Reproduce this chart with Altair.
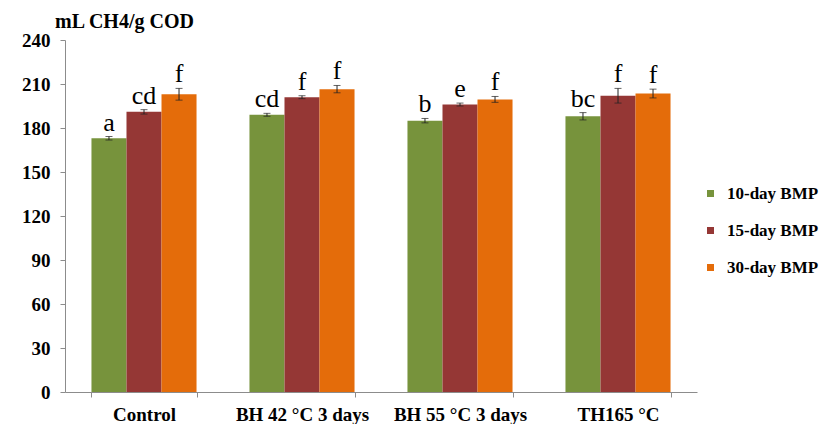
import altair as alt
import pandas as pd

groups = ["Control", "BH 42 °C 3 days", "BH 55 °C 3 days", "TH165 °C"]
series = ["10-day BMP", "15-day BMP", "30-day BMP"]
colors = ["#77933C", "#953735", "#E46C0A"]

v10 = [173, 189, 185, 188]
v15 = [191, 201, 196, 202]
v30 = [203, 206.5, 199.5, 203.5]

e10 = [1.2, 1.0, 1.5, 2.5]
e15 = [1.5, 1.0, 1.0, 5.0]
e30 = [4.0, 2.5, 2.0, 3.0]

l10 = ["a", "cd", "b", "bc"]
l15 = ["cd", "f", "e", "f"]
l30 = ["f", "f", "f", "f"]

y_ticks = [0, 30, 60, 90, 120, 150, 180, 210, 240]
y_title = "mL CH4/g COD"

rows = []
for s, vals, errs, labs in zip(series, [v10, v15, v30], [e10, e15, e30], [l10, l15, l30]):
    for g, v, e, lab in zip(groups, vals, errs, labs):
        rows.append({"group": g, "series": s, "value": v, "lo": v - e, "hi": v + e, "letter": lab})
df = pd.DataFrame(rows)

FONT = "Liberation Serif"
TFONT = "Liberation Serif, Times New Roman, serif"

x_enc = alt.X("group:N", sort=groups, title=None,
              scale=alt.Scale(paddingInner=0.335, paddingOuter=0.1675),
              axis=alt.Axis(labelAngle=0, labelFont=FONT, labelFontWeight="bold",
                            labelFontSize=19, labelColor="#000000", labelPadding=8,
                            tickBand="extent", tickSize=5, tickColor="#8c8c8c",
                            domainColor="#8c8c8c", labelLimit=300))
xo = alt.XOffset("series:N", sort=series, scale=alt.Scale(paddingInner=0, paddingOuter=0))

y_scale = alt.Scale(domain=[0, 240], nice=False)

bars = alt.Chart(df).mark_bar().encode(
    x=x_enc,
    xOffset=xo,
    y=alt.Y("value:Q", scale=y_scale, title=None,
            axis=alt.Axis(values=y_ticks, grid=False, labelFont=FONT, labelFontWeight="bold",
                          labelFontSize=19, labelColor="#000000", labelPadding=10,
                          tickSize=5, tickColor="#8c8c8c", domainColor="#8c8c8c")),
    color=alt.Color("series:N", sort=series,
                    scale=alt.Scale(domain=series, range=colors),
                    legend=alt.Legend(title=None, orient="none", legendX=637, legendY=145,
                                      symbolType="square", symbolSize=49, symbolStrokeWidth=0,
                                      labelFont=FONT, labelFontWeight="bold", labelFontSize=17,
                                      labelColor="#000000", rowPadding=19, padding=0,
                                      labelOffset=8)),
)

rules = alt.Chart(df).mark_rule(color="#222222", strokeWidth=1).encode(
    x=alt.X("group:N", sort=groups),
    xOffset=xo,
    y=alt.Y("lo:Q", scale=y_scale, title=None),
    y2="hi:Q",
)

caps_hi = alt.Chart(df).mark_tick(color="#222222", thickness=1, size=7).encode(
    x=alt.X("group:N", sort=groups),
    xOffset=xo,
    y=alt.Y("hi:Q", scale=y_scale, title=None),
)
caps_lo = alt.Chart(df).mark_tick(color="#222222", thickness=1, size=7).encode(
    x=alt.X("group:N", sort=groups),
    xOffset=xo,
    y=alt.Y("lo:Q", scale=y_scale, title=None),
)

letters = alt.Chart(df).mark_text(font=FONT, fontSize=26, baseline="alphabetic",
                                  dy=-6, color="#000000").encode(
    x=alt.X("group:N", sort=groups),
    xOffset=xo,
    y=alt.Y("hi:Q", scale=y_scale, title=None),
    text="letter:N",
)

chart = alt.layer(bars, rules, caps_hi, caps_lo, letters).properties(
    width=632, height=352,
    autosize=alt.AutoSizeParams(type="none"),
    padding={"left": 57, "top": 32, "right": 129, "bottom": 32},
    title=alt.TitleParams(y_title, anchor="start", frame="group", font=TFONT, fontWeight="bold",
                          fontSize=20, color="#000000", dx=-10, dy=29, offset=12,
                          baseline="alphabetic"),
).configure(
    background="#ffffff",
    view=alt.ViewConfig(strokeWidth=0, stroke="transparent"),
    title=alt.TitleConfig(font=TFONT, fontWeight="bold", fontSize=20, color="#000000"),
)

chart.save("out.html", embed_options={"renderer": "svg", "actions": False})
